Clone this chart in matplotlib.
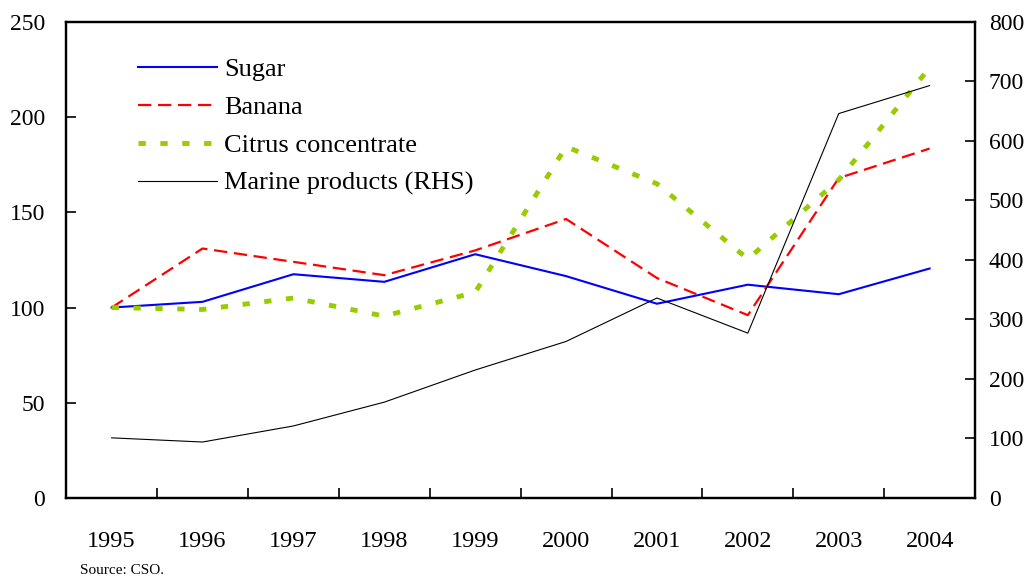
import numpy as np
import matplotlib.pyplot as plt

years = ['1995', '1996', '1997', '1998', '1999', '2000', '2001', '2002', '2003', '2004']
sugar = [100, 103, 117.5, 113.5, 128, 116.5, 102, 112, 107, 120.5]
banana = [100, 131, 124, 117, 130, 146.5, 115.5, 96, 168, 183.5]
citrus = [100, 99, 105, 95.5, 108, 184.5, 165, 125.5, 167, 226]
marine = [101, 94, 121, 161, 215, 263, 336, 277, 646, 693]

plt.rcParams['font.family'] = ['Liberation Serif', 'DejaVu Serif']

fig = plt.figure(figsize=(10.34, 5.77), dpi=100)
ax = fig.add_axes([0.064, 0.137, 0.879, 0.825])
ax2 = ax.twinx()

x = np.arange(len(years))
l1, = ax.plot(x, sugar, color='#0000ff', lw=1.5, label='Sugar')
l2, = ax.plot(x, banana, color='#ff0000', lw=1.6, linestyle=(0, (6, 3)), label='Banana')
l3, = ax.plot(x, citrus, color='#99cc00', lw=3.5, linestyle=(0, (1.5, 3.0)), label='Citrus concentrate')
l4, = ax2.plot(x, marine, color='black', lw=0.8, label='Marine products (RHS)')

ax.set_xlim(-0.5, len(years) - 0.5)
ax.set_ylim(0, 250)
ax.set_yticks(np.arange(0, 251, 50))
ax2.set_ylim(0, 800)
ax2.set_yticks(np.arange(0, 801, 100))

ax.set_xticks(x)
ax.set_xticklabels(years)
ax.set_xticks(x[:-1] + 0.5, minor=True)
ax.tick_params(axis='x', which='major', length=0, pad=24, labelsize=17.5)
ax.tick_params(axis='x', which='minor', direction='in', length=7, width=1.2)
ax.tick_params(axis='y', direction='in', length=7, width=1.2, labelsize=17, pad=15)
ax2.tick_params(axis='y', direction='in', length=7, width=1.2, labelsize=17, pad=10)

for a in (ax, ax2):
    for s in a.spines.values():
        s.set_linewidth(1.6)

ax.legend(handles=[l1, l2, l3, l4], loc='upper left', bbox_to_anchor=(0.079, 0.925),
          frameon=False, fontsize=19, handlelength=3.0, handletextpad=0.27,
          labelspacing=0.55, borderpad=0, borderaxespad=0)

fig.text(0.077, 0.006, 'Source: CSO.', fontsize=11)

fig.savefig('out.png', dpi=100)
